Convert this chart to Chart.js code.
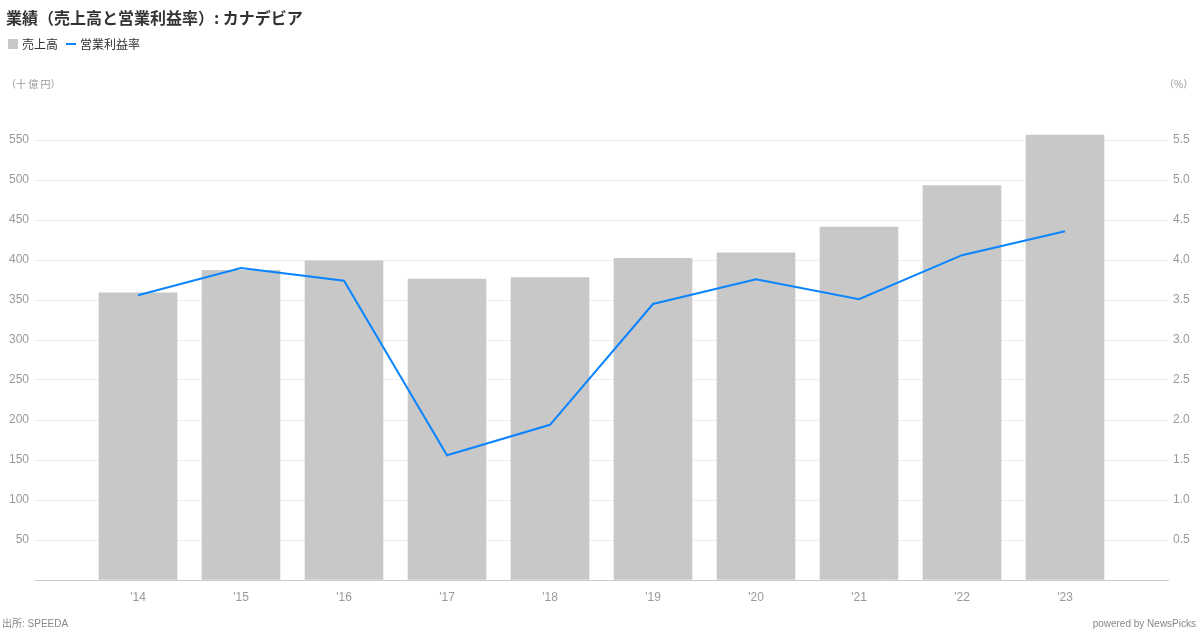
<!DOCTYPE html>
<html>
<head>
<meta charset="utf-8">
<script src="https://cdn.jsdelivr.net/npm/chart.js@4"></script>
<style>
  body { margin: 0; background: #fff; font-family: "Liberation Sans", "Noto Sans CJK JP", sans-serif; }
  #wrap { position: relative; width: 1200px; height: 630px; overflow: hidden; }
  #title { position: absolute; left: 6px; top: 5px; font-size: 16px; font-weight: bold; color: #333; font-family: "Noto Sans CJK JP", sans-serif; }
  #legend { position: absolute; left: 8px; top: 33px; font-size: 12px; color: #333; font-family: "Noto Sans CJK JP", sans-serif; }
  #legend span { display: inline-block; vertical-align: middle; }
  .box { width: 10px; height: 10px; background: #c8c8c8; margin-right: 4px; }
  .ln { width: 10px; height: 2px; background: #0a84ff; margin: 0 4px 0 8px; }
  .unit { position: absolute; top: 76px; font-size: 10px; color: #999; font-family: "Noto Sans CJK JP", sans-serif; }
  .foot { position: absolute; top: 618px; font-size: 10px; color: #888; line-height: 12px; }
  canvas { position: absolute; left: 0; top: 0; }
</style>
</head>
<body>
<div id="wrap">
  <canvas id="c" width="1200" height="630"></canvas>
  <div id="title">業績（売上高と営業利益率）: カナデビア</div>
  <div id="legend"><span class="box"></span><span>売上高</span><span class="ln"></span><span>営業利益率</span></div>
  <div class="unit" style="left:6px">（十 億 円）</div>
  <div class="unit" style="left:1164px">（%）</div>
  <div class="foot" style="left:2px">出所: SPEEDA</div>
  <div class="foot" style="right:4px">powered by NewsPicks</div>
</div>
<script>
const years = ["'14", "'15", "'16", "'17", "'18", "'19", "'20", "'21", "'22", "'23"];
const sales = [359, 387, 399, 376, 378, 402, 409, 441, 493, 556];
const margin = [3.56, 3.90, 3.74, 1.56, 1.94, 3.45, 3.76, 3.51, 4.06, 4.36];

const tickFont = { family: "'Liberation Sans', Arial, sans-serif", size: 12 };

const ctx = document.getElementById('c');
new Chart(ctx, {
  data: {
    datasets: [
      {
        type: 'line',
        label: '営業利益率',
        data: margin.map((v, i) => ({ x: i, y: v })),
        yAxisID: 'y2',
        borderColor: '#0a84ff',
        borderWidth: 2,
        pointRadius: 0,
        tension: 0
      },
      {
        type: 'bar',
        label: '売上高',
        data: sales.map((v, i) => ({ x: i, y: v })),
        yAxisID: 'y',
        backgroundColor: '#c8c8c8',
        barThickness: 78
      }
    ]
  },
  options: {
    responsive: false,
    animation: false,
    layout: { padding: { top: 100, left: 0, right: 0, bottom: 0 } },
    plugins: { legend: { display: false }, tooltip: { enabled: false } },
    scales: {
      x: {
        type: 'linear',
        min: -1,
        max: 10,
        offset: false,
        afterFit: s => { s.height = 50; },
        grid: { display: false },
        border: { color: '#ccc' },
        ticks: {
          stepSize: 1,
          padding: 2,
          color: '#999',
          font: tickFont,
          autoSkip: false,
          maxRotation: 0,
          callback: v => years[v] || ''
        }
      },
      y: {
        position: 'left',
        min: 0,
        max: 600,
        afterFit: s => { s.width = 35; },
        border: { display: false },
        grid: {
          drawTicks: false,
          color: c => (c.tick.value > 0 && c.tick.value < 600) ? '#eeeeee' : 'rgba(0,0,0,0)'
        },
        ticks: {
          stepSize: 50,
          padding: 6,
          color: '#999',
          font: tickFont,
          callback: v => (v > 0 && v < 600) ? v : ''
        }
      },
      y2: {
        position: 'right',
        min: 0,
        max: 6,
        afterFit: s => { s.width = 32; },
        border: { display: false },
        grid: { display: false, drawTicks: false },
        ticks: {
          stepSize: 0.5,
          padding: 5,
          color: '#999',
          font: tickFont,
          callback: v => (v > 0 && v < 6) ? v.toFixed(1) : ''
        }
      }
    }
  }
});
</script>
</body>
</html>
